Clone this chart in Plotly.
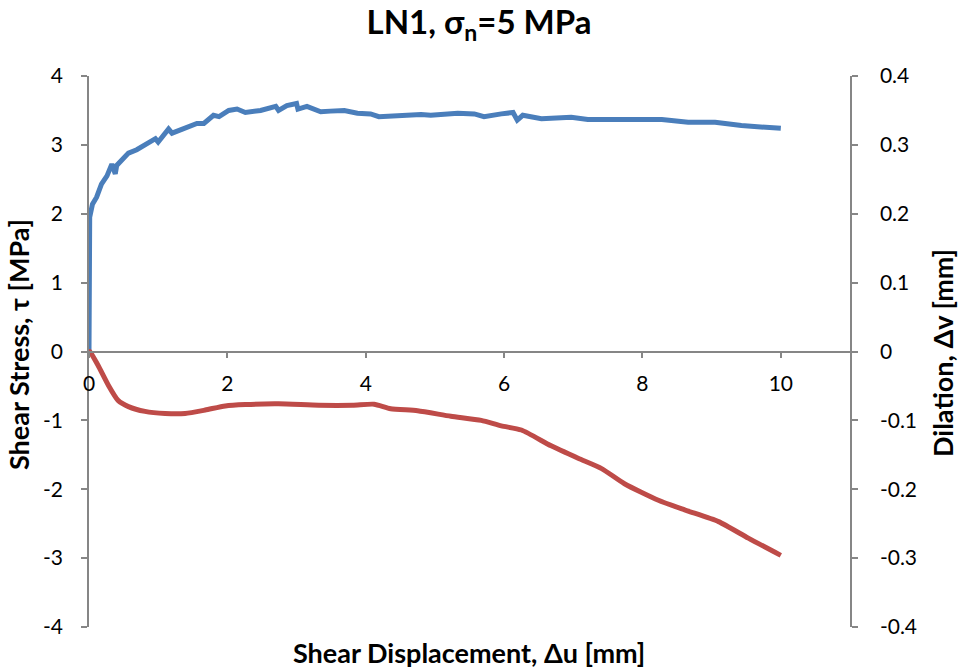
import plotly.graph_objects as go

# Shear stress curve (blue, left axis)
shear_disp = [0, 0.005, 0.01, 0.05, 0.11, 0.18, 0.26, 0.33, 0.38, 0.40, 0.47, 0.57, 0.69, 0.86,
              0.96, 1.0, 1.15, 1.2, 1.37, 1.56, 1.66, 1.80, 1.88, 2.02, 2.14, 2.26, 2.48, 2.70,
              2.74, 2.86, 3.0, 3.02, 3.15, 3.35, 3.49, 3.69, 3.88, 4.07, 4.19, 4.46, 4.80, 4.94,
              5.33, 5.57, 5.71, 5.96, 6.13, 6.19, 6.27, 6.54, 6.97, 7.21, 7.79, 8.28, 8.66, 9.05,
              9.43, 9.82, 10.0]
shear_stress = [0, 1.32, 1.95, 2.14, 2.24, 2.43, 2.55, 2.72, 2.58, 2.70, 2.77, 2.88, 2.93, 3.04,
                3.09, 3.04, 3.23, 3.17, 3.23, 3.31, 3.31, 3.43, 3.41, 3.50, 3.52, 3.47, 3.50, 3.56,
                3.50, 3.57, 3.60, 3.52, 3.56, 3.48, 3.49, 3.50, 3.46, 3.45, 3.41, 3.43, 3.44, 3.43,
                3.46, 3.45, 3.41, 3.45, 3.47, 3.36, 3.43, 3.38, 3.40, 3.37, 3.37, 3.37, 3.33, 3.33,
                3.28, 3.25, 3.24]

# Dilation curve (red, right axis)
dil_disp = [0, 0.01, 0.13, 0.28, 0.42, 0.57, 0.81, 1.10, 1.39, 1.68, 1.97, 2.26, 2.74, 3.32, 3.81,
            4.12, 4.36, 4.75, 5.23, 5.67, 5.96, 6.25, 6.68, 7.07, 7.41, 7.74, 8.23, 8.61, 9.10,
            9.53, 10.0]
dilation = [0, 0.0, -0.020, -0.049, -0.071, -0.080, -0.087, -0.090, -0.090, -0.085, -0.079,
            -0.077, -0.076, -0.078, -0.078, -0.0765, -0.083, -0.086, -0.094, -0.100, -0.108,
            -0.114, -0.137, -0.155, -0.170, -0.192, -0.216, -0.230, -0.247, -0.271, -0.296]

x_ticks = [0, 2, 4, 6, 8, 10]
x_tick_text = ["0", "2", "4", "6", "8", "10"]
y1_ticks = [-4, -3, -2, -1, 0, 1, 2, 3, 4]
y1_tick_text = ["-4", "-3", "-2", "-1", "0", "1", "2", "3", "4"]
y2_ticks = [-0.4, -0.3, -0.2, -0.1, 0, 0.1, 0.2, 0.3, 0.4]
y2_tick_text = ["-0.4", "-0.3", "-0.2", "-0.1", "0", "0.1", "0.2", "0.3", "0.4"]

FONT = "Lato"
AXIS_GRAY = "#868686"
TICK_SIZE = 21
AXIS_TITLE_SIZE = 27

fig = go.Figure()
fig.add_trace(go.Scatter(x=shear_disp, y=shear_stress, mode="lines",
                         line=dict(color="#4A7EBB", width=5), yaxis="y", showlegend=False))
fig.add_trace(go.Scatter(x=dil_disp, y=dilation, mode="lines",
                         line=dict(color="#BE4B48", width=5, shape="spline", smoothing=0.6),
                         yaxis="y2", showlegend=False))

fig.update_layout(
    width=958, height=670,
    margin=dict(l=89, r=108, t=76, b=43),
    paper_bgcolor="white", plot_bgcolor="white",
    font=dict(family=FONT, color="black", size=TICK_SIZE),
    title=dict(text="<b>LN1, σ<sub>n</sub>=5 MPa</b>", x=0.5, xanchor="center",
               y=0.967, yanchor="middle", yref="container",
               font=dict(family=FONT, size=33, color="black")),
    xaxis=dict(range=[0, 11], tickvals=x_ticks, ticktext=x_tick_text,
               anchor="free", position=0.5, showline=True, linecolor=AXIS_GRAY, linewidth=1.5,
               ticks="outside", ticklen=6, tickcolor=AXIS_GRAY, tickwidth=1.5,
               showgrid=False, zeroline=False, ticklabelstandoff=8,
               tickfont=dict(family=FONT, size=TICK_SIZE)),
    yaxis=dict(range=[-4, 4], tickvals=y1_ticks, ticktext=y1_tick_text,
               showline=True, linecolor=AXIS_GRAY, linewidth=1.5,
               ticks="outside", ticklen=6, tickcolor=AXIS_GRAY, tickwidth=1.5,
               showgrid=False, zeroline=False, ticklabelstandoff=14,
               tickfont=dict(family=FONT, size=TICK_SIZE)),
    yaxis2=dict(range=[-0.4, 0.4], tickvals=y2_ticks, ticktext=y2_tick_text,
                overlaying="y", side="right", anchor="x",
                showline=True, linecolor=AXIS_GRAY, linewidth=1.5,
                ticks="outside", ticklen=6, tickcolor=AXIS_GRAY, tickwidth=1.5,
                showgrid=False, zeroline=False, ticklabelstandoff=18,
                tickfont=dict(family=FONT, size=TICK_SIZE)),
    annotations=[
        dict(text="<b>Shear Displacement, Δu [mm]</b>", xref="paper", yref="paper",
             x=(469 - 89) / 761, y=(627 - 652) / 551, xanchor="center", yanchor="middle",
             showarrow=False, font=dict(family=FONT, size=AXIS_TITLE_SIZE)),
        dict(text="<b>Shear Stress, τ [MPa]</b>", xref="paper", yref="paper",
             x=(18 - 89) / 761, y=(627 - 345) / 551, xanchor="center", yanchor="middle",
             textangle=-90, showarrow=False, font=dict(family=FONT, size=AXIS_TITLE_SIZE)),
        dict(text="<b>Dilation, Δv [mm]</b>", xref="paper", yref="paper",
             x=(942 - 89) / 761, y=(627 - 353) / 551, xanchor="center", yanchor="middle",
             textangle=-90, showarrow=False, font=dict(family=FONT, size=AXIS_TITLE_SIZE)),
    ],
)

fig.write_html("out.html")
